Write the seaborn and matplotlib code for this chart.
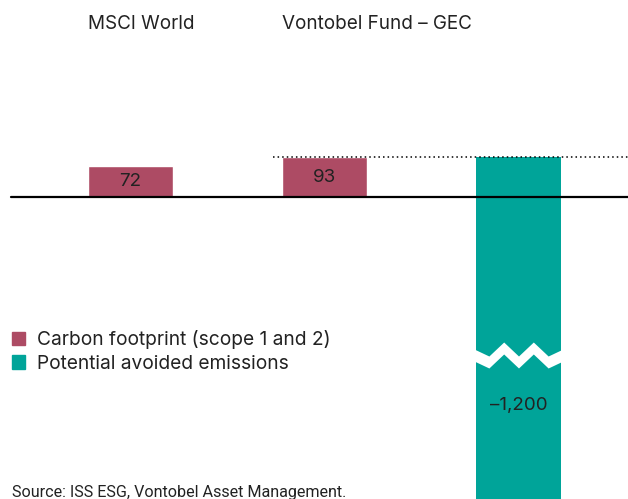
import numpy as np
import pandas as pd
import matplotlib
matplotlib.use("Agg")
import matplotlib.pyplot as plt
from matplotlib.patches import Patch
import seaborn as sns

# data
groups = ["MSCI World", "Vontobel Fund – GEC"]
footprint = [72, 93]
avoided = -1200
legend_labels = ["Carbon footprint (scope 1 and 2)", "Potential avoided emissions"]
source = "Source: ISS ESG, Vontobel Asset Management."

crimson = "#AD4B64"
teal = "#00A499"
ink = "#222222"

sns.set_theme(style="white")
plt.rcParams["font.family"] = ["Inter", "DejaVu Sans"]

fig = plt.figure(figsize=(6.28, 4.99), dpi=100)
ax = fig.add_axes([0, 0, 1, 1])

# pixel scale: 1 px = 2.325 units, baseline at y=197 px
upp = 2.325
width = 85 / 194

df = pd.DataFrame({"group": groups, "value": footprint})
order = groups + ["avoided"]
sns.barplot(data=df, x="group", y="value", order=order, color=crimson,
            saturation=1, width=width, ax=ax)
ax.set_ylim(-(499 - 197) * upp, 197 * upp)
ax.set_xlim(-130.5 / 194, (628 - 130.5) / 194)
ax.bar_label(ax.containers[0], labels=[str(v) for v in footprint],
             label_type="center", fontsize=13.5, color=ink)

# avoided emissions bar, starts at the fund footprint and runs off the chart
ax.bar(2, avoided - footprint[1], bottom=footprint[1], width=width,
       color=teal, linewidth=0)

# zigzag break in the teal bar
xs = np.linspace(2 - width / 2 - 0.01, 2 + width / 2 + 0.01, 7)
mid = -(355 - 197) * upp
amp = 7 * upp
centre = mid + np.array([0, -amp, amp, -amp, amp, -amp, 0])
half = 6 * upp
ax.fill_between(xs, centre - half, centre + half, color="white", lw=0)

ax.text(2, -(405 - 197) * upp, "–1,200", ha="center", va="center",
        fontsize=13.5, color=ink)

# baseline and dotted reference line
ax.axhline(0, xmin=11 / 628, xmax=1, color="black", lw=1.6, zorder=5)
ax.axhline(footprint[1], xmin=273 / 628, xmax=1, color="black", lw=1.1,
           linestyle=(0, (1, 2)), zorder=1)

# group titles, aligned to left edge of the bars
for i, g in enumerate(groups):
    ax.text(i - width / 2, (197 - 24) * upp, g, ha="left", va="center",
            fontsize=13.6, color=ink)

ax.axis("off")

handles = [Patch(color=crimson), Patch(color=teal)]
fig.legend(handles, legend_labels, loc="upper left",
           bbox_to_anchor=(12 / 628, 1 - 330 / 499), frameon=False,
           fontsize=13.8, handlelength=0.7, handleheight=0.7,
           handletextpad=0.62, labelspacing=0.3, borderpad=0,
           borderaxespad=0, labelcolor=ink)

fig.text(12 / 628, 1 - 485 / 499, source, ha="left", va="top",
         fontsize=11.6, color=ink, family=["Roboto", "DejaVu Sans"])

fig.savefig("out.png", dpi=100)
